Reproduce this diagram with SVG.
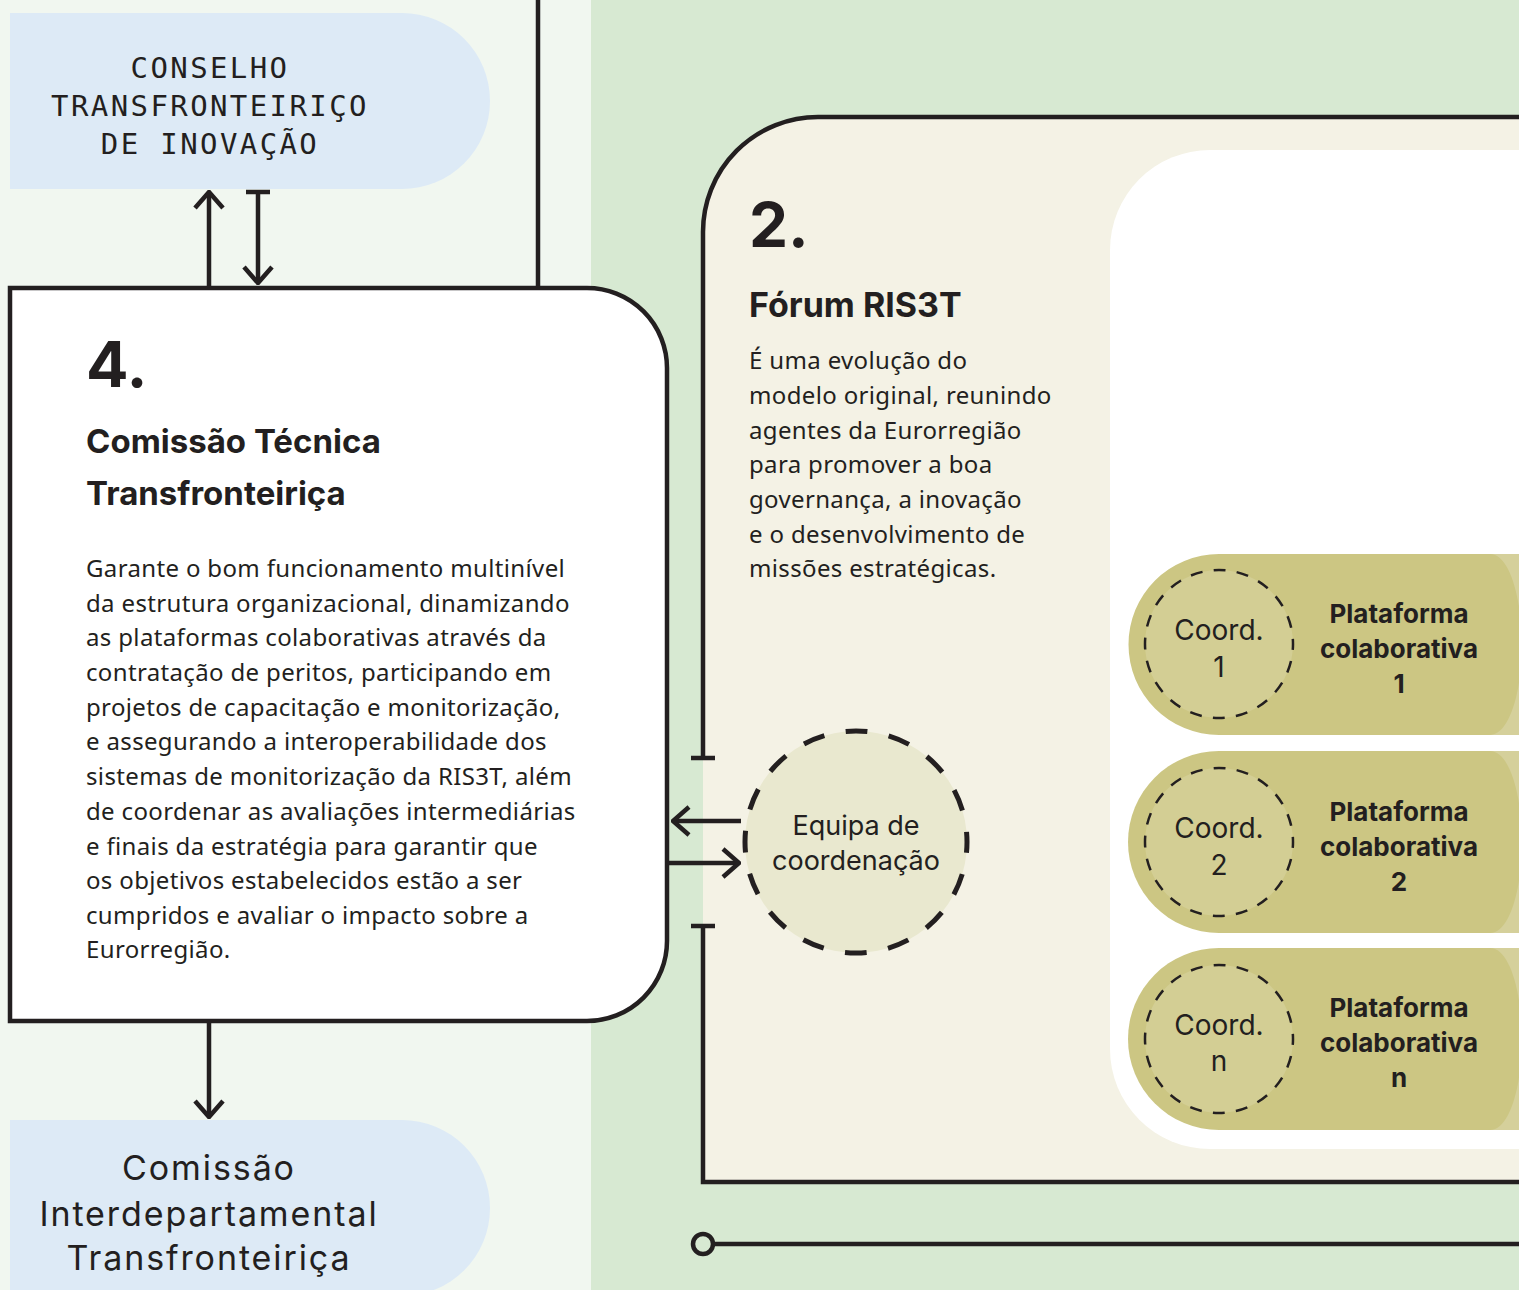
<svg xmlns="http://www.w3.org/2000/svg" width="1519" height="1290" viewBox="0 0 1519 1290">
<style>
.ln{fill:none;stroke:#231F20;stroke-width:4.5;stroke-linecap:butt;stroke-linejoin:miter}
.blue{fill:#DDEAF6}
.mono{font-family:"DejaVu Sans Mono","Liberation Mono",monospace;font-size:29px;fill:#231F20;letter-spacing:2.4px;text-anchor:middle}
.lbl{font-family:Inter,"Noto Sans",sans-serif;fill:#231F20;text-anchor:middle}
.head{font-family:Inter,"Noto Sans",sans-serif;font-weight:700;fill:#231F20}
.body{font-family:"Noto Sans","Open Sans",sans-serif;font-size:24px;letter-spacing:0.35px;fill:#231F20}
.pill{fill:#CCC683}
.pillb{fill:#D5D09B}
.coord{fill:#D3CE94;stroke:#231F20;stroke-width:2.5;stroke-dasharray:12 11.25;stroke-dashoffset:6}
</style>
<defs>
<marker id="ah" viewBox="0 0 20 32" refX="18" refY="16" markerWidth="20" markerHeight="32" markerUnits="userSpaceOnUse" orient="auto">
<path d="M2 2 L18 16 L2 30" fill="none" stroke="#231F20" stroke-width="4.5"/>
</marker>
</defs>
<rect x="0" y="0" width="591" height="1290" fill="#F1F7F0"/>
<rect x="591" y="0" width="928" height="1290" fill="#D7E9D2"/>

<g id="conselho">
<path class="blue" d="M10 13 H402 A88 88 0 0 1 402 189 H10 Z"/>
<text class="mono" x="210" y="78">CONSELHO</text>
<text class="mono" x="210" y="116">TRANSFRONTEIRIÇO</text>
<text class="mono" x="210" y="154">DE INOVAÇÃO</text>
</g>

<g id="cit">
<path class="blue" d="M10 1120 H402 A88 88 0 0 1 402 1296 H10 Z"/>
<text class="lbl" x="209" y="1180" font-size="34" letter-spacing="1.9">Comissão</text>
<text class="lbl" x="209" y="1226" font-size="34" letter-spacing="1.9">Interdepartamental</text>
<text class="lbl" x="209" y="1270" font-size="34" letter-spacing="1.9">Transfronteiriça</text>
</g>

<g id="forum">
<path d="M703 1182 V232 A115 115 0 0 1 818 117 H1530 V1182 Z" fill="#F4F2E5"/>
<path d="M1210 150 H1530 V1149 H1210 A100 100 0 0 1 1110 1049 V250 A100 100 0 0 1 1210 150 Z" fill="#FFFFFF"/>
<path class="ln" d="M703 758 V232 A115 115 0 0 1 818 117 H1530"/>
<path class="ln" d="M691 758 H715 M691 926 H715"/>
<path class="ln" d="M703 926 V1182 H1530"/>
<text class="head" x="749" y="247" font-size="62">2.</text>
<text class="head" x="749" y="317" font-size="34">Fórum RIS3T</text>
<text class="body" x="749" y="369">É uma evolução do</text>
<text class="body" x="749" y="404">modelo original, reunindo</text>
<text class="body" x="749" y="439">agentes da Eurorregião</text>
<text class="body" x="749" y="473">para promover a boa</text>
<text class="body" x="749" y="508">governança, a inovação</text>
<text class="body" x="749" y="543">e o desenvolvimento de</text>
<text class="body" x="749" y="577">missões estratégicas.</text>
</g>

<g id="plataforma1">
<rect class="pillb" x="1440" y="554" width="90" height="181"/>
<path class="pill" d="M1219 554 H1490 C1510 554 1522 600 1522 644.5 C1522 689 1510 735 1490 735 H1219 A90.5 90.5 0 0 1 1219 554 Z"/>
<circle class="coord" cx="1219" cy="644" r="74"/>
<text class="lbl" x="1219" y="640" font-size="28">Coord.</text>
<text class="lbl" x="1219" y="677" font-size="28">1</text>
<text class="lbl" x="1399" y="623" font-size="26" font-weight="700">Plataforma</text>
<text class="lbl" x="1399" y="658" font-size="26" font-weight="700">colaborativa</text>
<text class="lbl" x="1399" y="693" font-size="26" font-weight="700">1</text>
</g>

<g id="plataforma2">
<rect class="pillb" x="1440" y="751" width="90" height="182"/>
<path class="pill" d="M1219 751 H1490 C1510 751 1522 797 1522 842 C1522 887 1510 933 1490 933 H1219 A91 91 0 0 1 1219 751 Z"/>
<circle class="coord" cx="1219" cy="842" r="74"/>
<text class="lbl" x="1219" y="838" font-size="28">Coord.</text>
<text class="lbl" x="1219" y="875" font-size="28">2</text>
<text class="lbl" x="1399" y="821" font-size="26" font-weight="700">Plataforma</text>
<text class="lbl" x="1399" y="856" font-size="26" font-weight="700">colaborativa</text>
<text class="lbl" x="1399" y="891" font-size="26" font-weight="700">2</text>
</g>

<g id="plataforman">
<rect class="pillb" x="1440" y="948" width="90" height="182"/>
<path class="pill" d="M1219 948 H1490 C1510 948 1522 994 1522 1039 C1522 1084 1510 1130 1490 1130 H1219 A91 91 0 0 1 1219 948 Z"/>
<circle class="coord" cx="1219" cy="1039" r="74"/>
<text class="lbl" x="1219" y="1035" font-size="28">Coord.</text>
<text class="lbl" x="1219" y="1071" font-size="28">n</text>
<text class="lbl" x="1399" y="1017" font-size="26" font-weight="700">Plataforma</text>
<text class="lbl" x="1399" y="1052" font-size="26" font-weight="700">colaborativa</text>
<text class="lbl" x="1399" y="1087" font-size="26" font-weight="700">n</text>
</g>

<g id="equipa">
<circle cx="856" cy="842" r="111" fill="#E9E8CF" stroke="#231F20" stroke-width="5" stroke-dasharray="22 21.59" stroke-dashoffset="11"/>
<text class="lbl" x="856" y="835" font-size="27">Equipa de</text>
<text class="lbl" x="856" y="870" font-size="27">coordenação</text>
</g>

<g id="comissao-tecnica">
<path d="M10 288 H587 A80 80 0 0 1 667 368 V941 A80 80 0 0 1 587 1021 H10 Z" fill="#FFFFFF" stroke="#231F20" stroke-width="4.5"/>
<text class="head" x="86" y="387" font-size="63">4.</text>
<text class="head" x="86" y="453" font-size="33">Comissão Técnica</text>
<text class="head" x="86" y="505" font-size="33">Transfronteiriça</text>
<text class="body" x="86" y="577">Garante o bom funcionamento multinível</text>
<text class="body" x="86" y="612">da estrutura organizacional, dinamizando</text>
<text class="body" x="86" y="646">as plataformas colaborativas através da</text>
<text class="body" x="86" y="681">contratação de peritos, participando em</text>
<text class="body" x="86" y="716">projetos de capacitação e monitorização,</text>
<text class="body" x="86" y="750">e assegurando a interoperabilidade dos</text>
<text class="body" x="86" y="785">sistemas de monitorização da RIS3T, além</text>
<text class="body" x="86" y="820">de coordenar as avaliações intermediárias</text>
<text class="body" x="86" y="855">e finais da estratégia para garantir que</text>
<text class="body" x="86" y="889">os objetivos estabelecidos estão a ser</text>
<text class="body" x="86" y="924">cumpridos e avaliar o impacto sobre a</text>
<text class="body" x="86" y="958">Eurorregião.</text>
</g>

<g id="connectors">
<path class="ln" d="M538 0 V287"/>
<path class="ln" d="M209 287 V192" marker-end="url(#ah)"/>
<path class="ln" d="M246 192 H270"/>
<path class="ln" d="M258 192 V283" marker-end="url(#ah)"/>
<path class="ln" d="M209 1023 V1117" marker-end="url(#ah)"/>
<path class="ln" d="M741 821 H673" marker-end="url(#ah)"/>
<path class="ln" d="M669 863 H739" marker-end="url(#ah)"/>
<circle class="ln" cx="703" cy="1244" r="10"/>
<path class="ln" d="M713 1244 H1530"/>
</g>
</svg>
